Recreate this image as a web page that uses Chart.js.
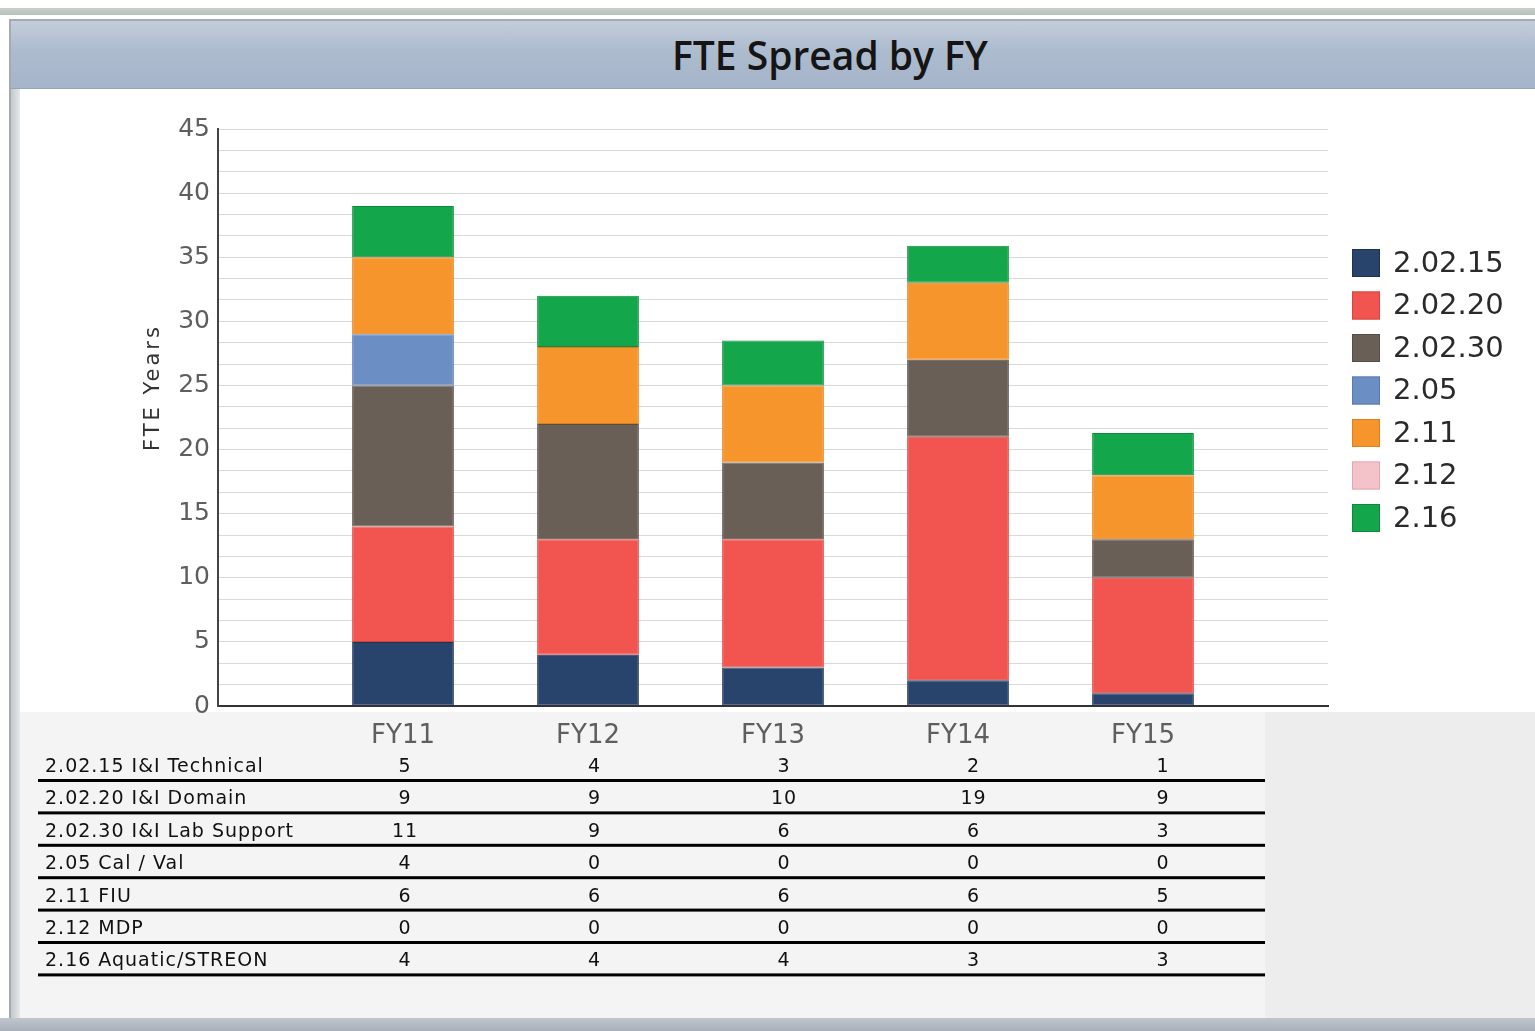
<!DOCTYPE html>
<html>
<head>
<meta charset="utf-8">
<script src="https://cdn.jsdelivr.net/npm/chart.js@4.4.1/dist/chart.umd.min.js"></script>
<style>
  body { margin: 0; width: 1535px; height: 1031px; overflow: hidden; background: #fff; position: relative; }
  .abs { position: absolute; }
  #topStrip { left: 0; top: 8px; width: 1535px; height: 7px; background: linear-gradient(#c9d0cc, #b9c1bd); }
  #frame { left: 9px; top: 19px; width: 1530px; height: 1000px; border: 2px solid #a3aab2; border-right: none; background: #fff; }
  #leftBand { left: 11px; top: 88px; width: 9px; height: 931px; background: linear-gradient(90deg, #c4c8cc, #e6e8ea); }
  #titleBar { left: 11px; top: 21px; width: 1524px; height: 67px;
    background: linear-gradient(#c3cddb, #adbbcf 45%, #a5b4c8); border-bottom: 1px solid #97a4b6; }
  #title { left: 125px; top: 28px; width: 1410px; text-align: center;
    font: 600 39px "Open Sans", "Liberation Sans", sans-serif; color: #151515; }
  #tableBg { left: 20px; top: 712px; width: 1245px; height: 306px; background: #f4f4f4; }
  #grayBlock { left: 1265px; top: 712px; width: 270px; height: 306px; background: #ededed; }
  #bottomBand { left: 0; top: 1018px; width: 1535px; height: 13px; background: linear-gradient(#bfc5cc, #a9b0b9); }
  canvas { position: absolute; left: 0; top: 0; }
</style>
</head>
<body>
<div id="topStrip" class="abs"></div>
<div id="frame" class="abs"></div>
<div id="leftBand" class="abs"></div>
<div id="titleBar" class="abs"></div>
<div id="title" class="abs">FTE Spread by FY</div>
<div id="tableBg" class="abs"></div>
<div id="grayBlock" class="abs"></div>
<div id="bottomBand" class="abs"></div>
<canvas id="fteChart" width="1535" height="1031"></canvas>

<script>
// fiscal years on the x axis
const years = ['FY11', 'FY12', 'FY13', 'FY14', 'FY15'];

// short names used in the legend, long names used in the table
const seriesNames = ['2.02.15', '2.02.20', '2.02.30', '2.05', '2.11', '2.12', '2.16'];
const tableNames = [
    '2.02.15 I&I Technical',
    '2.02.20 I&I Domain',
    '2.02.30 I&I Lab Support',
    '2.05 Cal / Val',
    '2.11 FIU',
    '2.12 MDP',
    '2.16 Aquatic/STREON'
];

// FTE years per fiscal year (table shows them rounded)
const tech = [5, 4, 3, 2, 1];
const domain = [9, 9, 10, 19, 9];
const labSupport = [11, 9, 6, 6, 3];
const calVal = [4, 0, 0, 0, 0];
const fiu = [6, 6, 6, 6, 5];
const mdp = [0, 0, 0, 0, 0];
const aquatic = [4, 4, 3.5, 2.9, 3.3];

const yTickLabels = [0, 5, 10, 15, 20, 25, 30, 35, 40, 45];

const seriesValues = [tech, domain, labSupport, calVal, fiu, mdp, aquatic];
const colors = ['#28446d', '#f2554f', '#6a5f57', '#6b8fc4', '#f6952b', '#f4c2c9', '#14a64a'];
const borders = ['#1d3352', '#d8443f', '#574d46', '#5a7aab', '#dc7f1c', '#e0a9b1', '#0e8a3c'];

// empty slot on both sides so bars sit like the original
const xLabels = [''].concat(years, ['']);

const datasets = seriesValues.map((vals, i) => ({
    label: seriesNames[i],
    data: [null].concat(vals, [null]),
    backgroundColor: colors[i],
    borderColor: borders[i],
    borderWidth: 1,
    borderSkipped: false
}));

const yTitlePlugin = {
    id: 'yTitle',
    afterDraw(chart) {
        const ctx = chart.ctx;
        const a = chart.chartArea;
        ctx.save();
        ctx.translate(a.left - 64, a.top + (a.bottom - a.top) / 2 - 30);
        ctx.rotate(-Math.PI / 2);
        ctx.font = '21px "DejaVu Sans"';
        ctx.letterSpacing = '3px';
        ctx.fillStyle = '#333';
        ctx.textAlign = 'center';
        ctx.textBaseline = 'middle';
        ctx.fillText('FTE Years', 0, 0);
        ctx.restore();
    }
};

const legendPlugin = {
    id: 'sideLegend',
    afterDraw(chart) {
        const ctx = chart.ctx;
        const a = chart.chartArea;
        const x = a.right + 24;
        ctx.save();
        ctx.font = '29px "DejaVu Sans"';
        ctx.textBaseline = 'middle';
        chart.data.datasets.forEach((ds, i) => {
            const cy = 263 + i * 42.5;
            ctx.fillStyle = ds.backgroundColor;
            ctx.fillRect(x, cy - 14, 28, 28);
            ctx.strokeStyle = ds.borderColor;
            ctx.lineWidth = 1;
            ctx.strokeRect(x + 0.5, cy - 13.5, 27, 27);
            ctx.fillStyle = '#2a2a2a';
            ctx.fillText(ds.label, x + 41, cy + 1);
        });
        ctx.restore();
    }
};

const tablePlugin = {
    id: 'dataTable',
    afterDraw(chart) {
        const ctx = chart.ctx;
        const xs = chart.scales.x;
        const col0 = xs.getPixelForValue(1) + 2;
        const colStep = 189.5;
        ctx.save();
        ctx.font = '19px "DejaVu Sans"';
        ctx.letterSpacing = '1px';
        ctx.textBaseline = 'middle';
        seriesValues.forEach((vals, r) => {
            const cy = 767 + r * 32.4;
            ctx.fillStyle = '#111';
            ctx.textAlign = 'left';
            ctx.fillText(tableNames[r], 45, cy);
            ctx.textAlign = 'center';
            vals.forEach((v, c) => {
                ctx.fillText(String(Math.round(v)), col0 + c * colStep, cy);
            });
            ctx.fillStyle = '#000';
            ctx.fillRect(38, cy + 12, 1227, 3);
        });
        ctx.restore();
    }
};

const ctx = document.getElementById('fteChart').getContext('2d');

const fteChart = new Chart(ctx, {
    type: 'bar',
    data: { labels: xLabels, datasets: datasets },
    plugins: [yTitlePlugin, legendPlugin, tablePlugin],
    options: {
        responsive: false,
        animation: false,
        layout: { padding: { left: 0, right: 207, top: 129, bottom: 0 } },
        datasets: { bar: { categoryPercentage: 0.55, barPercentage: 1 } },
        plugins: {
            legend: { display: false },
            title: { display: false },
            tooltip: { enabled: false }
        },
        scales: {
            x: {
                stacked: true,
                offset: false,
                grid: { display: false },
                border: { color: '#333', width: 2 },
                ticks: {
                    color: '#5e5e5e',
                    font: { family: 'DejaVu Sans', size: 26 },
                    padding: 7,
                    autoSkip: false,
                    maxRotation: 0
                },
                afterFit(s) { s.height = 325; }
            },
            y: {
                stacked: true,
                min: 0,
                max: 45,
                grid: { color: '#d9d9d9', drawTicks: false },
                border: { color: '#444', width: 2 },
                ticks: {
                    stepSize: 5 / 3,
                    autoSkip: false,
                    padding: 8,
                    color: '#5e5e5e',
                    font: { family: 'DejaVu Sans', size: 25 },
                    callback(v) {
                        const n = Math.round(v);
                        return (Math.abs(v - n) < 1e-6 && yTickLabels.includes(n)) ? String(n) : '';
                    }
                },
                afterFit(s) { s.width = 218; }
            }
        }
    }
});
</script>
</body>
</html>
